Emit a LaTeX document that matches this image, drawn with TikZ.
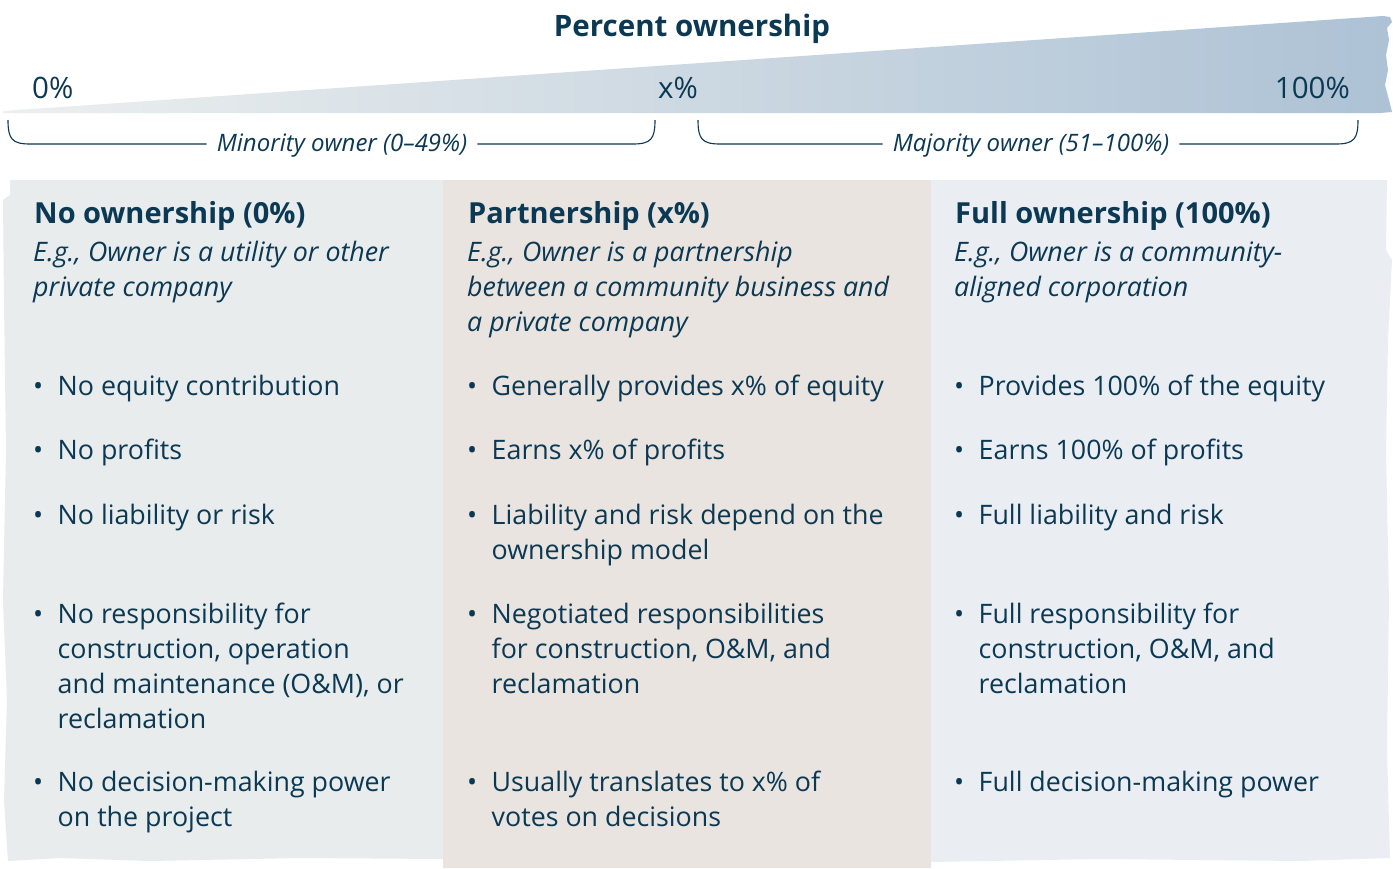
\documentclass[tikz,border=0pt]{standalone}
\usepackage{fontspec}
\setmainfont{Open Sans}
\definecolor{ink}{HTML}{0B3853}
\definecolor{colA}{HTML}{E8ECEC}
\definecolor{colB}{HTML}{E9E4DF}
\definecolor{colC}{HTML}{EAEEF3}
\definecolor{wedgeL}{HTML}{ECEFEF}
\definecolor{wedgeR}{HTML}{ADC2D5}
\newcommand{\bitem}[4]{%
  \node[dot] (#1d) at (#2,-#3) {•};
  \node[item] (#1) at (#2+24.5,-#3) {\parbox[t]{440pt}{\raggedright #4}};}
\begin{document}
\begin{tikzpicture}[x=1pt,y=1pt,
  every node/.style={text=ink, inner sep=0pt},
  hdr/.style={anchor=base west, font=\fontsize{29}{34}\selectfont\bfseries},
  sub/.style={anchor=base west, font=\fontsize{26.8}{35}\selectfont\itshape},
  item/.style={anchor=base west, font=\fontsize{26.8}{35}\selectfont},
  dot/.style={anchor=base west, font=\fontsize{26.8}{35}\selectfont},
  pct/.style={anchor=base, font=\fontsize{29.5}{34}\selectfont},
  brk/.style={draw=ink, line width=1.1pt},
  brklbl/.style={anchor=center, font=\fontsize{24}{28}\selectfont\itshape, inner xsep=10pt}
]
\useasboundingbox (0,0) rectangle (1393,-868);
\fill[white] (0,0) rectangle (1393,-868);

% wedge
\shade[left color=wedgeL, right color=wedgeR]
  (3,-111) -- (1383,-16) -- (1390,-17) -- (1392,-22) -- (1387,-28) -- (1389,-40)
  -- (1386,-55) -- (1388,-70) -- (1385,-85) -- (1389,-100) -- (1392,-112)
  -- (1380,-113) -- (3,-113) -- cycle;

% columns
\fill[colA] (10,-180) -- (444,-180) -- (444,-859) -- (300,-858) -- (150,-861)
  -- (60,-858) -- (8,-861) -- (4,-800) -- (7,-700) -- (3,-600) -- (6,-450)
  -- (4,-300) -- (3,-200) -- (10,-195) -- cycle;
\fill[colB] (443,-180) rectangle (931,-868);
\fill[colC] (931,-180) -- (1387,-180) -- (1386,-250) -- (1392,-260) -- (1388,-340)
  -- (1386,-450) -- (1389,-600) -- (1387,-750) -- (1390,-858) -- (1300,-861)
  -- (1100,-859) -- (931,-862) -- cycle;

% title and percent labels
\node[anchor=base, font=\fontsize{29.5}{34}\selectfont\bfseries] (title) at (692,-36) {Percent ownership};
\node[pct, anchor=base west] (p0) at (32,-98) {0\%};
\node[pct] (px) at (678,-98) {x\%};
\node[pct, anchor=base east] (p100) at (1350,-98) {100\%};

% brackets
\node[brklbl] (minl) at (342,-145.5) {Minority owner (0–49\%)};
\node[brklbl] (majl) at (1031,-145.5) {Majority owner (51–100\%)};
\coordinate (mina) at (8,-120);
\coordinate (minb) at (655,-120);
\coordinate (maja) at (698,-120);
\coordinate (majb) at (1358,-120);
\draw[brk] (mina) .. controls (8,-139) and (12,-144) .. (30,-144) -- (minl.west |- 0,-144);
\draw[brk] (minl.east |- 0,-144) -- (633,-144) .. controls (651,-144) and (655,-139) .. (minb);
\draw[brk] (maja) .. controls (698,-139) and (702,-144) .. (720,-144) -- (majl.west |- 0,-144);
\draw[brk] (majl.east |- 0,-144) -- (1336,-144) .. controls (1354,-144) and (1358,-139) .. (majb);

% column 1
\node[hdr] (h1) at (34,-223.5) {No ownership (0\%)};
\node[sub] (s1) at (33,-261) {\parbox[t]{420pt}{\raggedright E.g., Owner is a utility or other\\ private company}};
\bitem{a1}{33}{395}{No equity contribution}
\bitem{a2}{33}{459}{No profits}
\bitem{a3}{33}{524}{No liability or risk}
\bitem{a4}{33}{623}{No responsibility for\\ construction, operation\\ and maintenance (O\&M), or\\ reclamation}
\bitem{a5}{33}{791}{No decision-making power\\ on the project}

% column 2
\node[hdr] (h2) at (468,-223.5) {Partnership (x\%)};
\node[sub] (s2) at (467,-261) {\parbox[t]{460pt}{\raggedright E.g., Owner is a partnership\\ between a community business and\\ a private company}};
\bitem{b1}{467}{395}{Generally provides x\% of equity}
\bitem{b2}{467}{459}{Earns x\% of profits}
\bitem{b3}{467}{524}{Liability and risk depend on the\\ ownership model}
\bitem{b4}{467}{623}{Negotiated responsibilities\\ for construction, O\&M, and\\ reclamation}
\bitem{b5}{467}{791}{Usually translates to x\% of\\ votes on decisions}

% column 3
\node[hdr] (h3) at (955,-223.5) {Full ownership (100\%)};
\node[sub] (s3) at (954,-261) {\parbox[t]{420pt}{\raggedright E.g., Owner is a community-\\ aligned corporation}};
\bitem{c1}{954}{395}{Provides 100\% of the equity}
\bitem{c2}{954}{459}{Earns 100\% of profits}
\bitem{c3}{954}{524}{Full liability and risk}
\bitem{c4}{954}{623}{Full responsibility for\\ construction, O\&M, and\\ reclamation}
\bitem{c5}{954}{791}{Full decision-making power}
\end{tikzpicture}
\end{document}
